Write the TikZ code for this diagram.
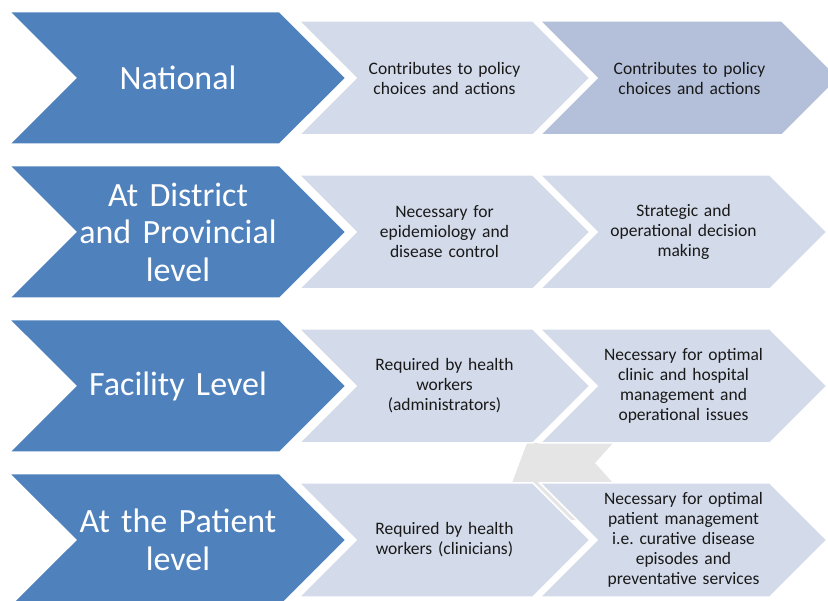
\documentclass[tikz,border=0pt]{standalone}
\usepackage{fontspec}
\setmainfont{Carlito}
\usepackage{xcolor}
\usepackage{tikz}
\usetikzlibrary{positioning, shapes.symbols}
\frenchspacing

\definecolor{levelblue}{HTML}{4F81BD}
\definecolor{paleblue}{HTML}{D3DAE9}
\definecolor{midblue}{HTML}{B4C0D9}

\begin{document}
\begin{tikzpicture}[
    x=1pt, y=-1pt,
    level/.style={shape=signal, signal from=west, signal to=east, signal pointer angle=90, fill=levelblue, text=white, minimum height=131pt, inner xsep=0pt, inner ysep=0pt, text width=202pt, align=center, font=\fontsize{34}{37.5}\selectfont},
    role/.style={shape=signal, signal from=west, signal to=east, signal pointer angle=90, fill=paleblue, draw=white, line width=1.5pt, minimum height=114pt, inner xsep=0pt, inner ysep=0pt, text width=177pt, align=center, text=black!90, font=\fontsize{17.5}{20}\selectfont},
    use/.style={role, text width=173pt}
]

\clip (0,0) rectangle (828,601);

% faint shape left behind the last two rows
\fill[black!10] (527,443) -- (613,443) -- (595,463) -- (613,483) -- (640,520) -- (500,520) -- (512,483) -- cycle;

% Levels on the left
\node[level] (national) at (178,78) {National};
\node[level] (district) at (178,232) {At District\\and Provincial\\level};
\node[level] (facility) at (178,386) {Facility Level};
\node[level] (patient) at (178,540) {At the Patient\\level};

% Who needs the information
\node[role] (national2) at (444.5,78) {Contributes to policy\\choices and actions};
\node[role] (district2) at (444.5,232) {Necessary for\\epidemiology and\\disease control};
\node[role] (facility2) at (444.5,386) {Required by health\\workers\\(administrators)};
\node[role] (patient2) at (444.5,540) {Required by health\\workers (clinicians)};

% What it is used for
\node[use, fill=midblue, text width=185pt] (national3) at (689.5,78) {Contributes to policy\\choices and actions};
\node[use] (district3) at (683.5,232) {Strategic and\\operational decision\\making};
\node[use] (facility3) at (683.5,386) {Necessary for optimal\\clinic and hospital\\management and\\operational issues};
\node[use] (patient3) at (683.5,540) {Necessary for optimal\\patient management\\i.e. curative disease\\episodes and\\preventative services};

\end{tikzpicture}
\end{document}
